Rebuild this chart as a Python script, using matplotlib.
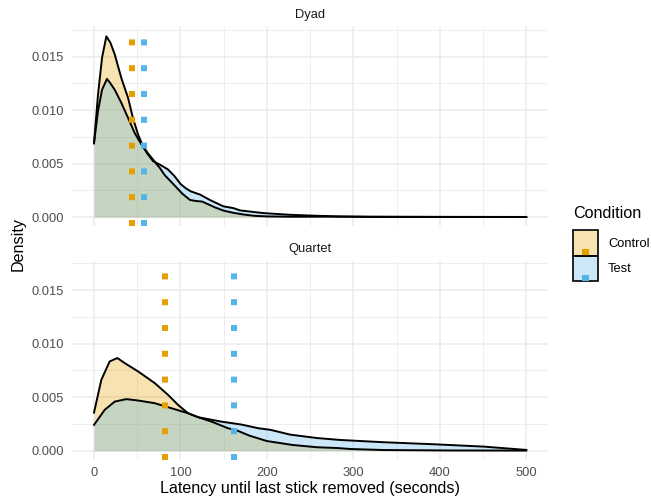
import matplotlib
matplotlib.use("Agg")
import matplotlib.pyplot as plt
from matplotlib.legend_handler import HandlerBase
from matplotlib.patches import Rectangle, Patch

plt.rcParams["font.family"] = ["Liberation Sans", "DejaVu Sans"]

# density curves (x in seconds, y density)
dyad_control_x = [0, 4.6, 9.3, 14.3, 19, 24, 31.6, 39.4, 45, 51, 56.7, 63, 70, 76, 82, 88, 95,
                  102, 111, 118, 125, 132, 140, 150, 161, 172, 185, 200, 230, 270, 290, 320, 400, 500]
dyad_control_y = [0.0069, 0.0114, 0.0149, 0.0169, 0.0163, 0.0152, 0.0130, 0.01114, 0.00927, 0.0077,
                  0.00663, 0.0059, 0.0052, 0.0046, 0.0039, 0.0034, 0.0028, 0.0022, 0.0016, 0.0015,
                  0.00145, 0.0012, 0.0009, 0.0006, 0.0004, 0.00025, 0.00012, 0.00006, 0.00003,
                  0.00004, 0.00003, 0.00001, 0.000005, 0.000002]

dyad_test_x = [0, 4.6, 9.3, 15, 19, 24, 31.6, 39.4, 47, 54.8, 62, 68.3, 76, 85.6, 93.4, 100, 106,
               112, 122.7, 134, 149.7, 161, 169, 196, 227, 258, 285, 320, 400, 500]
dyad_test_y = [0.0069, 0.0099, 0.0119, 0.01292, 0.0125, 0.0119, 0.01068, 0.00927, 0.00787, 0.00678,
               0.0059, 0.00523, 0.00491, 0.00445, 0.0038, 0.0031, 0.0027, 0.0024, 0.0021, 0.0016,
               0.0010, 0.00084, 0.00062, 0.00037, 0.00021, 0.00012, 0.00006, 0.00004, 0.00002, 0.00001]

quartet_control_x = [0, 8.5, 18.1, 27, 35.5, 51, 70.2, 85.6, 97.2, 108.8, 120.4, 135.8, 155, 165,
                     180, 200, 230, 258, 281, 296, 335, 411, 500]
quartet_control_y = [0.00356, 0.00663, 0.00834, 0.00866, 0.00819, 0.00741, 0.00632, 0.00522, 0.00428,
                     0.0035, 0.00313, 0.00272, 0.0021, 0.0019, 0.0014, 0.0009, 0.00053, 0.00032,
                     0.00025, 0.00016, 0.00006, 0.00002, 0.00001]

quartet_test_x = [0, 12.4, 24, 37.4, 51, 70.2, 89.5, 108.8, 120.4, 147, 170, 190, 204, 227, 258,
                  285, 335, 393, 451, 500]
quartet_test_y = [0.00241, 0.00382, 0.00459, 0.00482, 0.00469, 0.00444, 0.00397, 0.0035, 0.00313,
                  0.00272, 0.00245, 0.0021, 0.00195, 0.0015, 0.00118, 0.001, 0.00079, 0.0006,
                  0.00038, 0.00007]

# mean latency per group (dotted vertical lines)
dyad_means = [44.3, 57.9]
quartet_means = [82.2, 162.0]

conditions = ["Control", "Test"]
panel_names = ["Dyad", "Quartet"]
dot_colors = ["#E69F00", "#56B4E9"]
fill_colors = [(230 / 255, 159 / 255, 0, 0.3), (86 / 255, 180 / 255, 233 / 255, 0.3)]

panels = [
    ([(dyad_control_x, dyad_control_y), (dyad_test_x, dyad_test_y)], dyad_means),
    ([(quartet_control_x, quartet_control_y), (quartet_test_x, quartet_test_y)], quartet_means),
]

fig = plt.figure(figsize=(6.51, 5.01), dpi=100)
ax_top = fig.add_axes([0.1112, 0.5487, 0.7304, 0.397])
ax_bot = fig.add_axes([0.1112, 0.0824, 0.7304, 0.397])

for ax, name, (curves, means) in zip([ax_top, ax_bot], panel_names, panels):
    for (x, y), fc in zip(curves, fill_colors):
        ax.fill_between(x, 0, y, color=fc, lw=0, zorder=2)
        ax.plot(x, y, color="black", lw=1.4, zorder=3, solid_joinstyle="round")
    for m, c in zip(means, dot_colors):
        ax.axvline(m, ymin=0, ymax=1, color=c, lw=4.32, linestyle=(0, (1, 3.3)),
                   dash_capstyle="butt", zorder=4)

    ax.set_xlim(-25, 525)
    ax.set_ylim(-0.000845, 0.01775)
    ax.set_xticks([0, 100, 200, 300, 400, 500])
    ax.set_xticks([50, 150, 250, 350, 450], minor=True)
    ax.set_yticks([0, 0.005, 0.010, 0.015])
    ax.set_yticklabels(["0.000", "0.005", "0.010", "0.015"])
    ax.set_yticks([0.0025, 0.0075, 0.0125, 0.0175], minor=True)
    ax.grid(which="major", color="#EBEBEB", lw=1.1, zorder=0)
    ax.grid(which="minor", color="#EBEBEB", lw=0.6, zorder=0)
    ax.set_axisbelow(True)
    for s in ax.spines.values():
        s.set_visible(False)
    ax.tick_params(which="both", length=0, labelsize=9.25, labelcolor="#4D4D4D")
    ax.tick_params(axis="y", pad=6)
    ax.tick_params(axis="x", pad=5)
    ax.annotate(name, xy=(0.5, 1), xycoords="axes fraction", xytext=(0, 8.6),
                textcoords="offset points", ha="center", va="center",
                fontsize=9.25, color="#1A1A1A")

ax_top.tick_params(axis="x", labelbottom=False)

fig.text(310 / 651, 1 - 488 / 501, "Latency until last stick removed (seconds)",
         ha="center", va="center", fontsize=11.6)
fig.text(18.5 / 651, 1 - 243.5 / 501, "Density", rotation=90,
         ha="center", va="center", fontsize=11.6)


class KeyHandler(HandlerBase):
    def __init__(self, dot_color):
        super().__init__()
        self.dot_color = dot_color

    def create_artists(self, legend, orig_handle, xdescent, ydescent, width, height,
                       fontsize, trans):
        box = Rectangle((-xdescent, -ydescent), width, height,
                        facecolor=orig_handle.get_facecolor(), edgecolor="black",
                        lw=1.2, transform=trans)
        sq = 4.6
        dot = Rectangle((-xdescent + width / 2 - sq / 2, -ydescent), sq, sq,
                        facecolor=self.dot_color, edgecolor="none", transform=trans)
        return [box, dot]


handles = [Patch(facecolor=fc) for fc in fill_colors]
fig.text(573 / 651, 1 - 214 / 501, "Condition", ha="left", va="center", fontsize=11.6)
fig.legend(handles, conditions, loc="upper left", bbox_to_anchor=(573 / 651, 1 - 230 / 501),
           frameon=False, borderpad=0, borderaxespad=0, handletextpad=0.78,
           labelspacing=0, handlelength=1.95, handleheight=2.7, fontsize=9.25,
           handler_map={h: KeyHandler(c) for h, c in zip(handles, dot_colors)})

fig.savefig("out.png", dpi=100)
